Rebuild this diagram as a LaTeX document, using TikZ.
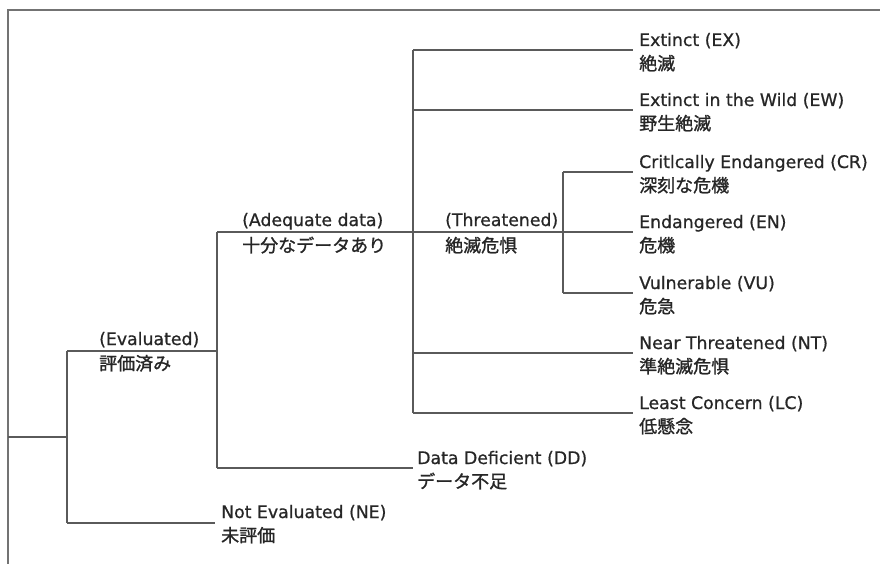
\documentclass[tikz,border=0pt]{standalone}
\usepackage{fontspec}
\setmainfont{DejaVu Sans}[FakeBold=0.8]
\newfontfamily\jp{Noto Sans CJK JP}[FakeBold=1.2]
\definecolor{linec}{HTML}{5A5A5A}
\definecolor{txtc}{HTML}{262626}
\begin{document}
\begin{tikzpicture}[x=1pt,y=-1pt,
  en/.style={anchor=base west, inner sep=0pt, text=txtc, font=\fontsize{17.3}{20}\selectfont},
  ja/.style={anchor=base west, inner sep=0pt, text=txtc, font=\jp\fontsize{18}{20}\selectfont},
  branch/.style={draw=linec, line width=1.1pt},
  framec/.style={draw=linec!85, line width=1.3pt}]
\useasboundingbox (0,0) rectangle (880,564);
% frame
\coordinate (fbl) at (8,564);
\coordinate (ftl) at (8,10);
\coordinate (ftr) at (880,10);
\draw[framec] (fbl) -- (ftl) -- (ftr);
% junction coordinates
\coordinate (root) at (8,437);
\coordinate (r) at (67,437);
\coordinate (e0) at (67,351);
\coordinate (e1) at (217,351);
\coordinate (n0) at (67,523);
\coordinate (n1) at (215,523);
\coordinate (a0) at (217,232);
\coordinate (a1) at (413,232);
\coordinate (d0) at (217,468);
\coordinate (d1) at (413,468);
\coordinate (t0) at (413,50);
\coordinate (t1) at (413,413);
\coordinate (ex) at (633,50);
\coordinate (ew0) at (413,110);
\coordinate (ew) at (633,110);
\coordinate (c) at (563,232);
\coordinate (en) at (633,232);
\coordinate (c0) at (563,172);
\coordinate (cr) at (633,172);
\coordinate (c1) at (563,293);
\coordinate (vu) at (633,293);
\coordinate (nt0) at (413,353);
\coordinate (nt) at (633,353);
\coordinate (lc) at (633,413);
% tree
\draw[branch] (root) -- (r);
\draw[branch] (e0) -- (n0);
\draw[branch] (e0) -- (e1);
\draw[branch] (n0) -- (n1);
\draw[branch] (a0) -- (d0);
\draw[branch] (a0) -- (a1);
\draw[branch] (d0) -- (d1);
\draw[branch] (t0) -- (t1);
\draw[branch] (t0) -- (ex);
\draw[branch] (ew0) -- (ew);
\draw[branch] (a1) -- (c) -- (en);
\draw[branch] (c0) -- (c1);
\draw[branch] (c0) -- (cr);
\draw[branch] (c1) -- (vu);
\draw[branch] (nt0) -- (nt);
\draw[branch] (t1) -- (lc);
% inner labels
\node[en] (evE) at (99,345) {(Evaluated)};
\node[ja] (evJ) at (99,370) {評価済み};
\node[en] (adE) at (242,226) {(Adequate data)};
\node[ja] (adJ) at (242,252) {十分なデータあり};
\node[en] (thE) at (445,226) {(Threatened)};
\node[ja] (thJ) at (445,252) {絶滅危惧};
% leaf labels
\node[en] (exE) at (639,46) {Extinct (EX)};
\node[ja] (exJ) at (639,70) {絶滅};
\node[en] (ewE) at (639,106) {Extinct in the Wild (EW)};
\node[ja] (ewJ) at (639,130) {野生絶滅};
\node[en] (crE) at (639,168) {Critlcally Endangered (CR)};
\node[ja] (crJ) at (639,192) {深刻な危機};
\node[en] (enE) at (639,228) {Endangered (EN)};
\node[ja] (enJ) at (639,252) {危機};
\node[en] (vuE) at (639,289) {Vulnerable (VU)};
\node[ja] (vuJ) at (639,313) {危急};
\node[en] (ntE) at (639,349) {Near Threatened (NT)};
\node[ja] (ntJ) at (639,373) {準絶滅危惧};
\node[en] (lcE) at (639,409) {Least Concern (LC)};
\node[ja] (lcJ) at (639,433) {低懸念};
\node[en] (ddE) at (417,464) {Data Deficient (DD)};
\node[ja] (ddJ) at (417,488) {データ不足};
\node[en] (neE) at (221,518) {Not Evaluated (NE)};
\node[ja] (neJ) at (221,542) {未評価};
\end{tikzpicture}
\end{document}
